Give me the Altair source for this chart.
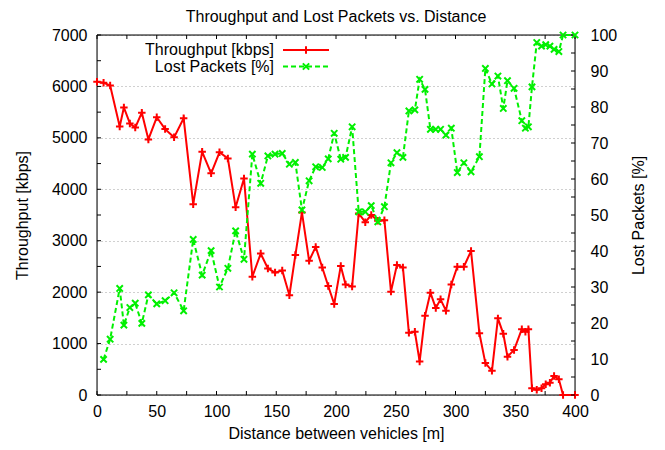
import altair as alt
import pandas as pd

# ---------------- data ----------------
distance = [0, 5.5, 11, 19, 22.5, 27.5, 32, 37.5, 43, 50,
            57, 64.5, 72.5, 80.5, 88, 95.5, 102.5, 109.5, 116, 123,
            130, 137, 143, 149, 155, 161, 166, 171.5, 177.5, 183,
            188.5, 193.5, 198.5, 204, 208, 213.5, 219, 224.5, 229.5, 235,
            240.5, 246, 251, 256, 261, 266, 270, 274.5, 279, 283.5,
            287.5, 292, 296.5, 301.5, 307, 313, 320, 325, 330.5, 335.5,
            340, 343.5, 349, 355.5, 358.5, 361, 364, 368, 372, 375.5,
            379, 382.5, 386.5, 390, 400]

throughput = [6090, 6070, 6020, 5220, 5590, 5280, 5200, 5490, 4970, 5400,
              5170, 5010, 5380, 3710, 4730, 4310, 4720, 4600, 3650, 4210,
              2300, 2750, 2460, 2380, 2420, 1940, 2720, 3550, 2610, 2880,
              2480, 2120, 1770, 2510, 2150, 2110, 3530, 3360, 3500, 3390,
              3400, 2010, 2530, 2480, 1210, 1230, 650, 1540, 1990, 1690,
              1860, 1640, 2150, 2495, 2495, 2800, 1200, 620, 470, 1490,
              1190, 745, 875, 1280, 1230, 1280, 130, 100, 130, 210,
              240, 370, 305, 0, 0]

lost_packets = [None, 9.9, 15.5, 29.6, 19.4, 24.3, 25.5, 19.9, 27.8, 25.3,
                26.2, 28.4, 23.4, 43.2, 33.3, 40.1, 30.0, 35.2, 45.6, 37.7,
                66.9, 58.8, 66.4, 66.9, 67.1, 64.1, 64.6, 51.4, 59.5, 63.4,
                63.2, 65.6, 72.7, 65.5, 66.0, 74.5, 50.9, 50.9, 52.6, 48.1,
                52.3, 64.5, 67.3, 66.0, 78.9, 79.2, 87.7, 84.9, 73.8, 73.8,
                73.8, 72.2, 74.1, 61.8, 64.5, 62.0, 66.2, 90.7, 86.4, 88.6,
                79.6, 87.3, 85.2, 76.2, 74.1, 74.5, 85.6, 97.9, 96.9, 97.3,
                96.9, 96.0, 95.4, 100, 100]

x_label_values = [0, 50, 100, 150, 200, 250, 300, 350, 400]
x_tick_values = list(range(0, 401, 25))
left_label_values = [0, 1000, 2000, 3000, 4000, 5000, 6000, 7000]
left_tick_values = list(range(0, 7001, 500))
right_label_values = [0, 10, 20, 30, 40, 50, 60, 70, 80, 90, 100]
right_tick_values = list(range(0, 101, 5))
series_names = ["Throughput [kbps]", "Lost Packets [%]"]
chart_title = "Throughput and Lost Packets vs. Distance"
x_title = "Distance between vehicles [m]"

# ---------------- style ----------------
W, H = 478, 360
FONT = "Liberation Sans"
FS = 16
RED = "#ff0000"
GREEN = "#00f000"
TICK = 4
PLUS = "M-1,0L1,0M0,-1L0,1"
CROSS = "M-1,-1L1,1M-1,1L1,-1"

df = pd.DataFrame({"distance": distance, "throughput": throughput, "lost": lost_packets})
xt = pd.DataFrame({"t": x_tick_values})
lt = pd.DataFrame({"v": left_tick_values})
rt = pd.DataFrame({"v": right_tick_values})
leg1 = pd.DataFrame({"label": [series_names[0]]})
leg2 = pd.DataFrame({"label": [series_names[1]]})
one = pd.DataFrame({"k": [0]})

common = dict(domain=False, ticks=False, tickSize=0, labelFont=FONT, titleFont=FONT,
              labelFontSize=FS, titleFontSize=FS, titleFontWeight="normal",
              labelColor="black", titleColor="black", format="d",
              labelFlush=False, labelOverlap=False)

x_scale = alt.Scale(domain=[0, 400], nice=False, zero=False)
x_axis = alt.Axis(title=x_title, values=x_label_values, grid=False,
                  labelPadding=8, titlePadding=6, **common)
yl_scale = alt.Scale(domain=[0, 7000], nice=False)
yl_axis = alt.Axis(title=series_names[0], orient="left", values=left_label_values,
                   grid=True, gridColor="#a0a0a0", gridDash=[1, 3], gridWidth=1,
                   labelPadding=10, titlePadding=21, **common)
yr_scale = alt.Scale(domain=[0, 100], nice=False)
yr_axis = alt.Axis(title=series_names[1], orient="right", values=right_label_values,
                   grid=False, labelPadding=15, titlePadding=14, titleAngle=270,
                   titleBaseline="top", **common)

X = alt.X("distance:Q", scale=x_scale, axis=x_axis)

frame = alt.Chart(one).mark_rect(fillOpacity=0, stroke="black", strokeWidth=1).encode(
    x=alt.value(0), x2=alt.value(W), y=alt.value(0), y2=alt.value(H))

xt_bottom = alt.Chart(xt).mark_rule(color="black", strokeWidth=1).encode(
    x=alt.X("t:Q", scale=x_scale, axis=x_axis), y=alt.value(H), y2=alt.value(H - TICK))
xt_top = alt.Chart(xt).mark_rule(color="black", strokeWidth=1).encode(
    x=alt.X("t:Q", scale=x_scale, axis=x_axis), y=alt.value(0), y2=alt.value(TICK))
lt_rule = alt.Chart(lt).mark_rule(color="black", strokeWidth=1).encode(
    y=alt.Y("v:Q", scale=yl_scale, axis=yl_axis), x=alt.value(0), x2=alt.value(TICK))
rt_rule = alt.Chart(rt).mark_rule(color="black", strokeWidth=1).encode(
    y=alt.Y("v:Q", scale=yr_scale, axis=yr_axis), x=alt.value(W), x2=alt.value(W - TICK))

red_line = alt.Chart(df).mark_line(color=RED, strokeWidth=2).encode(
    x=X, y=alt.Y("throughput:Q", scale=yl_scale, axis=yl_axis))
red_pts = alt.Chart(df).mark_point(shape=PLUS, size=56, filled=False, color=RED,
                                   strokeWidth=2, opacity=1).encode(
    x=X, y=alt.Y("throughput:Q", scale=yl_scale, axis=yl_axis))

green_line = alt.Chart(df).mark_line(color=GREEN, strokeWidth=2, strokeDash=[5, 3]).encode(
    x=X, y=alt.Y("lost:Q", scale=yr_scale, axis=yr_axis))
green_pts = alt.Chart(df).mark_point(shape=CROSS, size=40, filled=False, color=GREEN,
                                     strokeWidth=2, opacity=1).encode(
    x=X, y=alt.Y("lost:Q", scale=yr_scale, axis=yr_axis))

# legend (manual, gnuplot style: text right-aligned, sample to the right)
LX_T, LX0, LX1, LXM = 177, 186, 232, 209
LY1, LY2 = 15, 31.5
leg_t1 = alt.Chart(leg1).mark_text(align="right", baseline="middle", font=FONT,
                                   fontSize=FS, color="black").encode(
    text="label:N", x=alt.value(LX_T), y=alt.value(LY1))
leg_t2 = alt.Chart(leg2).mark_text(align="right", baseline="middle", font=FONT,
                                   fontSize=FS, color="black").encode(
    text="label:N", x=alt.value(LX_T), y=alt.value(LY2))
leg_l1 = alt.Chart(one).mark_rule(color=RED, strokeWidth=2).encode(
    x=alt.value(LX0), x2=alt.value(LX1), y=alt.value(LY1))
leg_p1 = alt.Chart(one).mark_point(shape=PLUS, size=56, filled=False, color=RED,
                                   strokeWidth=2, opacity=1).encode(
    x=alt.value(LXM), y=alt.value(LY1))
leg_l2 = alt.Chart(one).mark_rule(color=GREEN, strokeWidth=2, strokeDash=[5, 3]).encode(
    x=alt.value(LX0), x2=alt.value(LX1), y=alt.value(LY2))
leg_p2 = alt.Chart(one).mark_point(shape=CROSS, size=40, filled=False, color=GREEN,
                                   strokeWidth=2, opacity=1).encode(
    x=alt.value(LXM), y=alt.value(LY2))

left_group = alt.layer(frame, xt_bottom, xt_top, lt_rule, red_line, red_pts,
                       leg_t1, leg_t2, leg_l1, leg_p1)
right_group = alt.layer(rt_rule, green_line, green_pts, leg_l2, leg_p2)

chart = alt.layer(left_group, right_group).resolve_scale(y="independent").properties(
    width=W, height=H,
    title=alt.Title(chart_title, font=FONT, fontSize=FS, fontWeight="normal",
                    color="black", anchor="middle", frame="group", offset=2),
    padding={"left": 89, "top": 27, "right": 82, "bottom": 47},
    autosize=alt.AutoSizeParams(type="none"),
).configure_view(stroke="transparent").configure(background="white")

chart.save("out.html", embed_options={"renderer": "svg", "actions": False})
